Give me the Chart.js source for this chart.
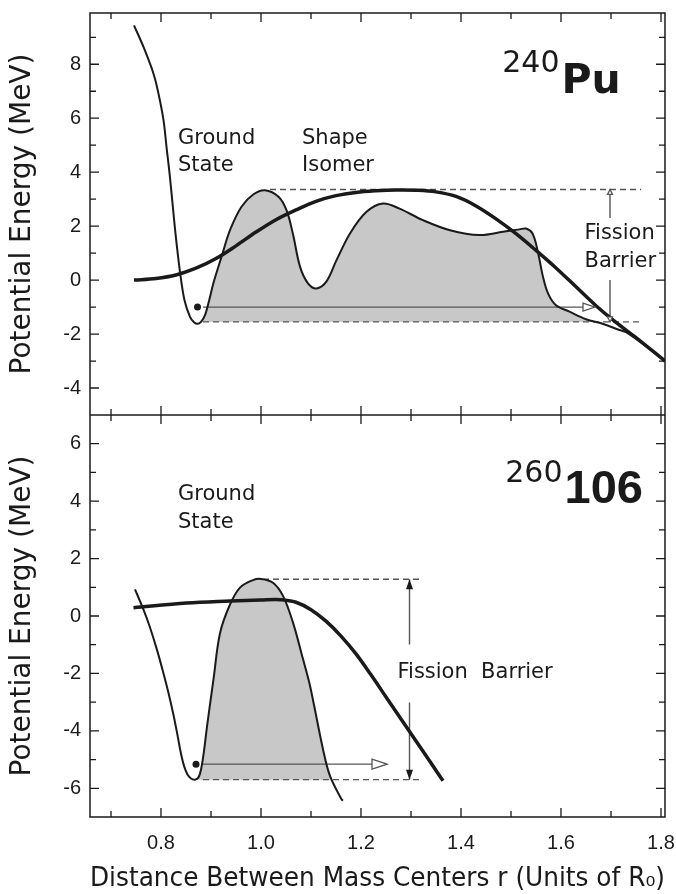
<!DOCTYPE html>
<html>
<head>
<meta charset="utf-8">
<script src="https://cdn.jsdelivr.net/npm/chart.js@4.4.1/dist/chart.umd.min.js"></script>
<style>
  html, body { margin: 0; padding: 0; background: #fff; }
  canvas { display: block; }
</style>
</head>
<body>
<canvas id="fission" width="676" height="894"></canvas>
<script>
// 240Pu: double-humped barrier (thin) and liquid-drop estimate (thick)
var puBarrierR = [0.746, 0.765, 0.785, 0.795, 0.805, 0.811, 0.818, 0.828, 0.838, 0.847,
                  0.858, 0.866, 0.873, 0.880, 0.888, 0.897, 0.905, 0.921, 0.938, 0.961,
                  0.985, 1.008, 1.035, 1.051, 1.064, 1.078, 1.094, 1.111, 1.131, 1.151,
                  1.178, 1.211, 1.244, 1.277, 1.324, 1.378, 1.437, 1.484, 1.517, 1.530,
                  1.543, 1.553, 1.564, 1.574, 1.590, 1.617, 1.650, 1.683, 1.717, 1.730,
                  1.770, 1.808];
var puBarrierE = [9.44, 8.64, 7.65, 6.91, 5.93, 4.94, 3.80, 1.90, 0.30, -0.75,
                  -1.36, -1.56, -1.62, -1.55, -1.30, -0.70, -0.10, 0.86, 1.85, 2.72,
                  3.18, 3.33, 3.09, 2.59, 1.70, 0.50, -0.12, -0.31, -0.05, 0.74,
                  1.73, 2.53, 2.84, 2.65, 2.22, 1.85, 1.67, 1.79, 1.88, 1.91,
                  1.73, 1.11, 0.12, -0.49, -0.93, -1.17, -1.45, -1.62, -1.85, -1.93,
                  -2.45, -3.00];
var puDropR = [0.746, 0.790, 0.830, 0.870, 0.910, 0.950, 0.990, 1.030, 1.070, 1.110,
               1.150, 1.190, 1.230, 1.270, 1.310, 1.350, 1.390, 1.430, 1.470, 1.510,
               1.550, 1.590, 1.630, 1.670, 1.710, 1.750, 1.808];
var puDropE = [0.00, 0.06, 0.19, 0.44, 0.80, 1.27, 1.78, 2.24, 2.60, 2.92,
               3.13, 3.25, 3.31, 3.34, 3.33, 3.27, 3.10, 2.75, 2.27, 1.72,
               1.10, 0.45, -0.25, -0.95, -1.57, -2.13, -3.00];

// 260(106): single-humped barrier (thin) and liquid-drop estimate (thick)
var sgBarrierR = [0.748, 0.765, 0.778, 0.792, 0.805, 0.815, 0.825, 0.833, 0.840, 0.846,
                  0.853, 0.860, 0.868, 0.875, 0.880, 0.886, 0.892, 0.905, 0.918, 0.938,
                  0.958, 0.984, 1.000, 1.024, 1.044, 1.064, 1.084, 1.098, 1.124, 1.138,
                  1.161, 1.164];
var sgBarrierE = [0.93, 0.22, -0.40, -1.18, -2.00, -2.68, -3.45, -4.15, -4.80, -5.22,
                  -5.52, -5.66, -5.70, -5.62, -5.35, -4.70, -3.85, -2.20, -0.60, 0.40,
                  0.99, 1.25, 1.29, 1.16, 0.70, -0.23, -1.50, -2.43, -4.64, -5.57,
                  -6.38, -6.43];
var sgDropR = [0.745, 0.851, 0.938, 1.000, 1.040, 1.070, 1.100, 1.130, 1.160, 1.190,
               1.220, 1.250, 1.280, 1.310, 1.340, 1.364];
var sgDropE = [0.29, 0.45, 0.52, 0.56, 0.57, 0.48, 0.22, -0.18, -0.70, -1.32,
               -2.05, -2.82, -3.59, -4.35, -5.12, -5.74];

// levels: ground state, bottom of well, barrier top
var puGround = -1.0, puFloor = -1.55, puTop = 3.36;
var sgGround = -5.16, sgFloor = -5.7, sgTop = 1.28;

var xTicks = [0.8, 1.0, 1.2, 1.4, 1.6, 1.8];
var puTicks = [-4, -2, 0, 2, 4, 6, 8];
var sgTicks = [-6, -4, -2, 0, 2, 4, 6];

var INK = '#1a1a1a';
var GREY = '#555';
var SHADE = 'rgb(200,200,200)';
var LABEL_FONT = '21px "DejaVu Sans", sans-serif';
var SMOOTH = 0.35;

function pts(rs, es) {
    return rs.map((r, i) => ({ x: r, y: es[i] }));
}
function slice(rs, es, from, to) {
    return pts(rs, es).filter(p => p.x >= from && p.x <= to);
}

function curve(data, axis, width) {
    return {
        data: data, yAxisID: axis, borderColor: INK, borderWidth: width,
        pointRadius: 0, fill: false, tension: SMOOTH, order: 0
    };
}
function rule(data, axis, dashed) {
    return {
        data: data, yAxisID: axis, borderColor: GREY, borderWidth: 1.4,
        borderDash: dashed ? [6, 4] : [], pointRadius: 0, fill: false, tension: 0, order: 1
    };
}
function shade(data, axis, floor) {
    return {
        data: data, yAxisID: axis, borderWidth: 0, borderColor: 'rgba(0,0,0,0)',
        backgroundColor: SHADE, pointRadius: 0, fill: { value: floor },
        tension: SMOOTH, order: 3
    };
}

var datasets = [
    curve(pts(puBarrierR, puBarrierE), 'yPu', 2),
    curve(pts(puDropR, puDropE), 'yPu', 3.5),
    curve(pts(sgBarrierR, sgBarrierE), 'ySg', 2),
    curve(pts(sgDropR, sgDropE), 'ySg', 3.5),

    rule([{ x: 1.018, y: puTop }, { x: 1.76, y: puTop }], 'yPu', true),
    rule([{ x: 0.884, y: puFloor }, { x: 1.76, y: puFloor }], 'yPu', true),
    rule([{ x: 1.004, y: sgTop }, { x: 1.321, y: sgTop }], 'ySg', true),
    rule([{ x: 0.884, y: sgFloor }, { x: 1.321, y: sgFloor }], 'ySg', true),

    // ground state -> tunnelling arrows
    rule([{ x: 0.884, y: puGround }, { x: 1.655, y: puGround }], 'yPu', false),
    rule([{ x: 0.882, y: sgGround }, { x: 1.236, y: sgGround }], 'ySg', false),

    // barrier height arrows, broken around the label
    rule([{ x: 1.698, y: puTop }, { x: 1.698, y: 2.3 }], 'yPu', false),
    rule([{ x: 1.698, y: 0.0 }, { x: 1.698, y: puFloor }], 'yPu', false),
    rule([{ x: 1.297, y: sgTop }, { x: 1.297, y: -0.99 }], 'ySg', false),
    rule([{ x: 1.297, y: -3.01 }, { x: 1.297, y: sgFloor }], 'ySg', false),

    { data: [{ x: 0.873, y: puGround }], yAxisID: 'yPu', showLine: false,
      pointRadius: 3.5, pointBackgroundColor: INK, pointBorderWidth: 0, order: 0 },
    { data: [{ x: 0.870, y: sgGround }], yAxisID: 'ySg', showLine: false,
      pointRadius: 3.5, pointBackgroundColor: INK, pointBorderWidth: 0, order: 0 },

    shade(slice(puBarrierR, puBarrierE, 0.879, 1.69), 'yPu', puFloor),
    shade(slice(sgBarrierR, sgBarrierE, 0.867, 1.14), 'ySg', sgFloor)
];

function openHead(c, x, y, len, half, dir) {
    // default points right; 'up' / 'down' for the vertical arrows
    c.beginPath();
    if (dir === 'up') {
        c.moveTo(x, y); c.lineTo(x - half, y + len); c.lineTo(x + half, y + len);
    } else if (dir === 'down') {
        c.moveTo(x, y); c.lineTo(x - half, y - len); c.lineTo(x + half, y - len);
    } else {
        c.moveTo(x, y); c.lineTo(x - len, y - half); c.lineTo(x - len, y + half);
    }
    c.closePath();
}

function text(c, s, x, y, font, align) {
    c.font = font;
    c.textAlign = align || 'left';
    c.fillText(s, x, y);
}

var decor = {
    id: 'decor',
    afterDatasetsDraw(chart) {
        var c = chart.ctx, sx = chart.scales.x, yPu = chart.scales.yPu, ySg = chart.scales.ySg;
        c.save();
        c.lineWidth = 1.3;
        c.strokeStyle = GREY;
        c.fillStyle = '#fff';
        openHead(c, sx.getPixelForValue(1.668), yPu.getPixelForValue(puGround), 12, 4);
        c.fill(); c.stroke();
        openHead(c, sx.getPixelForValue(1.252), ySg.getPixelForValue(sgGround), 15, 5);
        c.fill(); c.stroke();
        openHead(c, sx.getPixelForValue(1.698), yPu.getPixelForValue(puTop), 5, 2.5, 'up');
        c.fill(); c.stroke();
        openHead(c, sx.getPixelForValue(1.698), yPu.getPixelForValue(puFloor), 5, 2.5, 'down');
        c.fill(); c.stroke();
        c.fillStyle = INK;
        openHead(c, sx.getPixelForValue(1.297), ySg.getPixelForValue(sgTop), 10, 3.5, 'up');
        c.fill();
        openHead(c, sx.getPixelForValue(1.297), ySg.getPixelForValue(sgFloor), 10, 3.5, 'down');
        c.fill();
        c.restore();
    },
    afterDraw(chart) {
        var c = chart.ctx, a = chart.chartArea;
        var sx = chart.scales.x, yPu = chart.scales.yPu, ySg = chart.scales.ySg;
        var mid = yPu.bottom;
        c.save();
        c.strokeStyle = INK;
        c.lineWidth = 1.5;
        c.strokeRect(a.left, a.top, a.right - a.left, a.bottom - a.top);
        c.beginPath();
        c.moveTo(a.left, mid); c.lineTo(a.right, mid);
        c.stroke();

        // inward ticks on all sides, crossing ticks on the shared axis
        c.lineWidth = 1.3;
        c.beginPath();
        for (var k = 7; k <= 18; k++) {
            var px = sx.getPixelForValue(k / 10);
            var len = (k % 2 === 0) ? 9 : 6;
            c.moveTo(px, a.bottom); c.lineTo(px, a.bottom - len);
            c.moveTo(px, a.top); c.lineTo(px, a.top + len);
            c.moveTo(px, mid - len); c.lineTo(px, mid + len);
        }
        [[yPu, -4, 9], [ySg, -6, 6]].forEach(function (s) {
            for (var e = s[1]; e <= s[2]; e++) {
                var py = s[0].getPixelForValue(e);
                var len = (e % 2 === 0) ? 9 : 6;
                c.moveTo(a.left, py); c.lineTo(a.left + len, py);
                c.moveTo(a.right, py); c.lineTo(a.right - len, py);
            }
        });
        c.stroke();

        c.fillStyle = INK;
        c.textBaseline = 'middle';
        var X = v => sx.getPixelForValue(v);
        text(c, 'Ground', X(0.834), yPu.getPixelForValue(5.26), LABEL_FONT);
        text(c, 'State', X(0.834), yPu.getPixelForValue(4.26), LABEL_FONT);
        text(c, 'Shape', X(1.082), yPu.getPixelForValue(5.26), LABEL_FONT);
        text(c, 'Isomer', X(1.082), yPu.getPixelForValue(4.26), LABEL_FONT);
        text(c, 'Fission', X(1.647), yPu.getPixelForValue(1.74), LABEL_FONT);
        text(c, 'Barrier', X(1.647), yPu.getPixelForValue(0.67), LABEL_FONT);
        text(c, 'Ground', X(0.834), ySg.getPixelForValue(4.23), LABEL_FONT);
        text(c, 'State', X(0.834), ySg.getPixelForValue(3.26), LABEL_FONT);
        text(c, 'Fission  Barrier', X(1.273), ySg.getPixelForValue(-1.96), LABEL_FONT);

        // nuclide labels
        c.textBaseline = 'alphabetic';
        text(c, '240', X(1.597), yPu.getPixelForValue(7.7), '30px "DejaVu Sans", sans-serif', 'right');
        text(c, 'Pu', X(1.601), yPu.getPixelForValue(6.95), 'bold 41px "DejaVu Sans", sans-serif');
        text(c, '260', X(1.603), ySg.getPixelForValue(4.65), '30px "DejaVu Sans", sans-serif', 'right');
        text(c, '106', X(1.607), ySg.getPixelForValue(3.95), 'bold 47px "Liberation Sans", sans-serif');
        c.restore();
    }
};

var tickFont = { family: '"Liberation Sans Narrow", "Liberation Sans", sans-serif', size: 20 };
var titleFont = { family: '"DejaVu Sans", sans-serif', size: 28, lineHeight: 1.2 };

function energyAxis(min, max, ticks) {
    return {
        type: 'linear', position: 'left', stack: 'energy', stackWeight: 1,
        min: min, max: max,
        afterBuildTicks: s => { s.ticks = ticks.map(v => ({ value: v })); },
        afterFit: s => { s.width = 90; s.paddingTop = 0; s.paddingBottom = 0; },
        ticks: { font: tickFont, color: INK, padding: 9 },
        grid: { display: false, drawTicks: false },
        border: { display: false },
        title: {
            display: true, text: 'Potential Energy (MeV)', color: INK,
            font: titleFont, padding: { top: 6, bottom: 0 }
        }
    };
}

var ctx = document.getElementById('fission').getContext('2d');
var myChart = new Chart(ctx, {
    type: 'line',
    data: { datasets: datasets },
    options: {
        responsive: false,
        animation: false,
        layout: { padding: { top: 13, right: 11, left: 0, bottom: 0 } },
        plugins: { legend: { display: false }, tooltip: { enabled: false } },
        scales: {
            x: {
                type: 'linear', min: 0.658, max: 1.808,
                afterBuildTicks: s => { s.ticks = xTicks.map(v => ({ value: v })); },
                afterFit: s => { s.height = 77; s.paddingLeft = 0; s.paddingRight = 0; },
                ticks: {
                    font: tickFont, color: INK, padding: 14, maxRotation: 0, autoSkip: false,
                    callback: v => v.toFixed(1)
                },
                grid: { display: false, drawTicks: false },
                border: { display: false },
                title: {
                    display: true, text: 'Distance Between Mass Centers r (Units of R\u2080)',
                    color: INK, font: { family: '"DejaVu Sans", sans-serif', size: 26, lineHeight: 1.1 },
                    padding: { top: 0, bottom: 0 }
                }
            },
            ySg: energyAxis(-7, 7, sgTicks),
            yPu: energyAxis(-5, 9.9, puTicks)
        }
    },
    plugins: [decor]
});
</script>
</body>
</html>
